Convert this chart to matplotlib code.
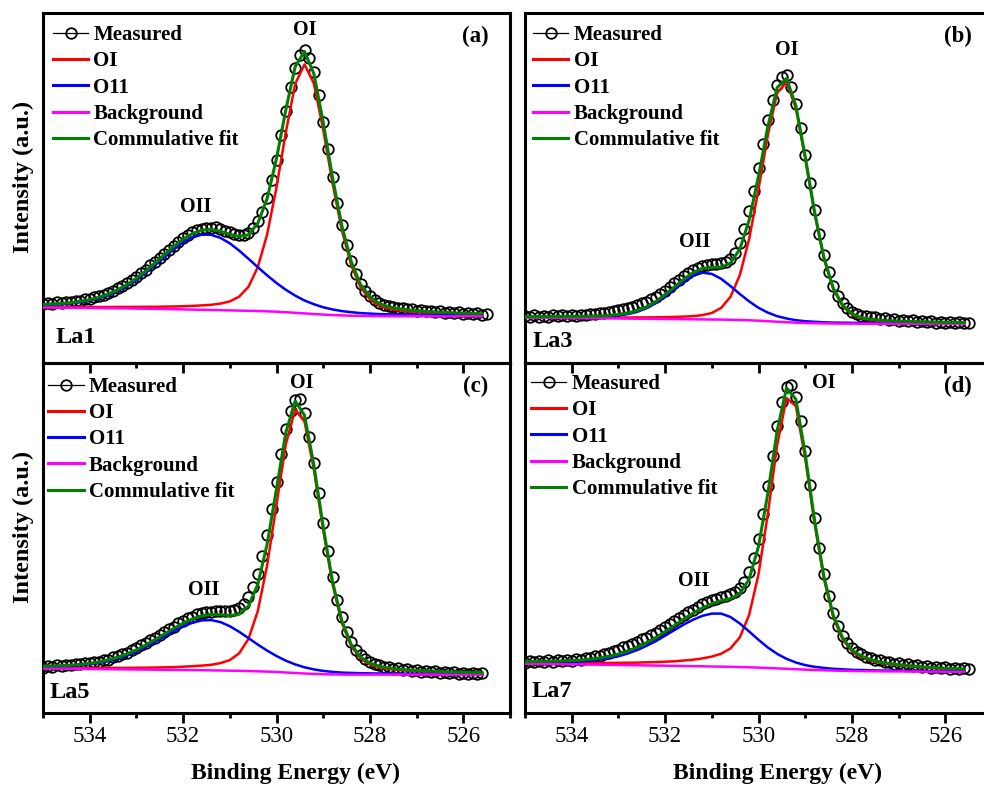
import numpy as np
import matplotlib
matplotlib.use("Agg")
import matplotlib.pyplot as plt
from matplotlib.lines import Line2D
from matplotlib.ticker import MultipleLocator

plt.rcParams['font.family'] = ['Liberation Serif', 'DejaVu Serif']

# binding energy grid of the fitted curves (eV), 0.2 eV step
e_fit = np.round(np.arange(535.0, 525.5, -0.2), 1)

# ---------------- La1 (a) ----------------
meas_la1 = [59.5, 60.5, 59.2, 60.8, 60.0, 61.5, 60.6, 62.5, 62.0, 63.8,
            64.0, 66.5, 67.0, 68.2, 70.5, 72.0, 74.8, 77.5, 80.0, 83.5,
            86.0, 90.5, 93.5, 98.0, 101.5, 105.0, 109.5, 113.5, 117.0, 121.5,
            125.0, 128.5, 131.0, 133.5, 134.5, 135.5, 135.0, 135.8, 134.0, 132.5,
            131.0, 129.5, 128.0, 128.5, 130.5, 135.0, 142.0, 151.0, 165.0, 183.0,
            203.0, 228.0, 252.0, 276.0, 295.0, 308.0, 313.0, 305.0, 291.0, 268.0,
            241.0, 214.0, 186.0, 160.0, 138.0, 118.0, 102.0, 89.0, 79.0, 72.0,
            67.0, 63.0, 60.0, 58.5, 57.0, 56.5, 55.0, 55.2, 53.6, 54.2,
            52.4, 53.2, 51.6, 52.4, 50.6, 51.8, 50.2, 51.0, 49.6, 50.6,
            49.0, 50.2, 48.8, 49.6, 48.5, 49.2]
oi_la1 = [56.2, 56.2, 56.1, 56.1, 56.1, 56.0, 56.0, 56.0, 56.1, 56.1,
          56.1, 56.2, 56.2, 56.4, 56.5, 56.8, 57.1, 57.6, 58.2, 59.4,
          61.6, 66.4, 76.2, 96.0, 128.7, 175.8, 230.8, 279.2, 298.6, 279.5,
          233.4, 179.8, 132.6, 97.8, 75.6, 63.8, 57.5, 54.4, 52.7, 51.7,
          50.9, 50.4, 49.8, 49.5, 49.1, 48.9, 48.6, 48.4]
oii_la1 = [57.9, 58.2, 58.8, 59.5, 60.7, 62.3, 64.7, 67.7, 71.9, 77.0,
           83.1, 90.2, 97.9, 106.0, 113.8, 120.7, 125.7, 128.4, 128.2, 125.1,
           119.7, 112.4, 104.2, 95.8, 87.6, 80.0, 73.2, 67.4, 62.5, 58.8,
           55.7, 53.6, 51.9, 50.8, 49.9, 49.4, 48.9, 48.7, 48.5, 48.3,
           48.2, 48.0, 47.8, 47.8, 47.7, 47.6, 47.6, 47.5]
bg_la1 = [55.5, 55.4, 55.3, 55.2, 55.1, 55.0, 54.9, 54.8, 54.7, 54.6,
          54.4, 54.3, 54.1, 54.0, 53.8, 53.6, 53.4, 53.2, 53.0, 52.8,
          52.6, 52.4, 52.2, 52.0, 51.7, 51.3, 50.8, 50.2, 49.6, 49.0,
          48.4, 48.0, 47.6, 47.3, 47.1, 47.0, 46.9, 46.9, 46.8, 46.8,
          46.8, 46.8, 46.7, 46.7, 46.7, 46.7, 46.7, 46.7]

# ---------------- La3 (b) ----------------
meas_la3 = [47.5, 46.2, 47.6, 46.0, 47.4, 46.3, 47.8, 46.6, 48.0, 47.0,
            48.2, 47.3, 48.5, 47.8, 49.0, 48.6, 49.8, 50.0, 51.2, 52.0,
            53.0, 54.0, 55.2, 56.5, 58.0, 59.8, 61.5, 63.8, 66.0, 69.0,
            72.5, 76.0, 80.0, 83.5, 87.0, 90.5, 93.0, 95.5, 97.0, 98.0,
            98.8, 99.5, 100.0, 101.5, 104.5, 110.0, 120.0, 134.0, 152.0, 172.0,
            195.0, 219.0, 243.0, 263.0, 278.0, 286.0, 288.0, 276.0, 259.0, 235.0,
            208.0, 180.0, 153.0, 129.0, 108.0, 91.0, 77.0, 67.0, 60.0, 55.0,
            51.5, 49.0, 47.5, 47.0, 45.6, 46.0, 44.2, 44.8, 43.0, 43.8,
            42.4, 43.2, 41.6, 42.6, 41.0, 42.2, 40.8, 41.8, 40.4, 41.4,
            40.2, 41.2, 40.0, 40.8, 39.8, 40.5]
oi_la3 = [45.9, 45.9, 45.8, 45.7, 45.7, 45.6, 45.6, 45.5, 45.5, 45.5,
          45.5, 45.5, 45.6, 45.6, 45.7, 45.9, 46.1, 46.4, 46.9, 47.9,
          50.0, 55.1, 66.2, 87.9, 124.0, 173.7, 227.8, 270.0, 280.8, 254.8,
          204.6, 149.8, 104.5, 74.1, 56.9, 48.6, 44.7, 43.1, 42.2, 41.7,
          41.4, 41.1, 40.8, 40.7, 40.5, 40.4, 40.3, 40.2]
oii_la3 = [46.0, 45.9, 45.9, 45.9, 45.9, 45.9, 45.9, 46.1, 46.2, 46.7,
           47.5, 48.9, 51.1, 54.7, 59.8, 66.6, 73.8, 81.2, 87.3, 90.3,
           89.1, 84.2, 76.9, 69.0, 61.6, 55.2, 50.4, 46.8, 44.5, 42.8,
           41.8, 41.2, 40.7, 40.4, 40.3, 40.2, 40.0, 39.9, 39.9, 39.8,
           39.8, 39.7, 39.7, 39.7, 39.6, 39.6, 39.6, 39.6]
bg_la3 = [45.5, 45.4, 45.3, 45.2, 45.1, 45.0, 44.9, 44.8, 44.7, 44.6,
          44.5, 44.4, 44.3, 44.2, 44.1, 44.0, 43.9, 43.8, 43.7, 43.6,
          43.5, 43.4, 43.2, 43.0, 42.7, 42.3, 41.8, 41.3, 40.8, 40.3,
          40.0, 39.8, 39.6, 39.5, 39.4, 39.4, 39.3, 39.3, 39.3, 39.3,
          39.3, 39.3, 39.3, 39.3, 39.3, 39.3, 39.3, 39.3]

# ---------------- La5 (c) ----------------
meas_la5 = [45.0, 46.8, 45.8, 47.6, 46.8, 48.4, 47.6, 49.0, 48.6, 49.8,
            49.6, 51.0, 51.4, 52.8, 53.4, 55.6, 56.6, 59.0, 60.4, 63.2,
            64.6, 67.8, 69.6, 72.8, 75.0, 78.2, 80.6, 84.0, 86.4, 89.6,
            91.8, 94.6, 96.4, 98.6, 99.8, 101.0, 101.4, 101.8, 101.6, 102.0,
            102.2, 103.0, 105.0, 109.0, 116.0, 126.0, 139.0, 157.0, 178.0, 204.0,
            231.0, 259.0, 284.0, 302.0, 313.0, 314.0, 300.0, 276.0, 250.0, 220.0,
            190.0, 162.0, 136.0, 113.0, 96.0, 81.0, 71.0, 63.0, 58.0, 54.0,
            51.5, 49.0, 48.0, 46.2, 45.6, 44.0, 44.6, 42.8, 43.8, 42.0,
            43.0, 41.2, 42.4, 40.6, 41.8, 40.2, 41.2, 39.8, 40.8, 39.4,
            40.4, 39.2, 40.2, 39.0, 40.0]
oi_la5 = [45.2, 45.2, 45.1, 45.1, 45.1, 45.1, 45.1, 45.1, 45.1, 45.1,
          45.2, 45.3, 45.5, 45.7, 45.9, 46.3, 46.8, 47.4, 48.2, 49.9,
          52.9, 59.7, 74.1, 102.1, 147.9, 208.2, 268.7, 303.4, 291.4, 243.5,
          182.9, 128.9, 90.0, 66.9, 54.6, 48.7, 45.7, 44.0, 43.0, 42.3,
          41.8, 41.4, 41.0, 40.7, 40.4, 40.2, 40.0, 39.9]
oii_la5 = [46.1, 46.2, 46.6, 46.9, 47.6, 48.6, 49.9, 51.9, 54.4, 57.6,
           61.5, 66.1, 71.2, 76.5, 81.8, 86.5, 90.3, 92.6, 92.9, 90.9,
           86.8, 81.2, 74.9, 68.4, 62.4, 57.0, 52.3, 48.6, 45.7, 43.6,
           42.1, 41.1, 40.4, 40.1, 39.8, 39.6, 39.5, 39.4, 39.3, 39.2,
           39.1, 39.1, 39.0, 39.0, 38.9, 38.9, 38.8, 38.8]
bg_la5 = [44.5, 44.4, 44.3, 44.2, 44.1, 44.0, 43.9, 43.8, 43.7, 43.6,
          43.5, 43.4, 43.3, 43.2, 43.1, 43.0, 42.9, 42.8, 42.6, 42.5,
          42.3, 42.2, 42.0, 41.7, 41.4, 41.0, 40.5, 40.0, 39.5, 39.1,
          38.8, 38.6, 38.4, 38.4, 38.4, 38.4, 38.4, 38.4, 38.4, 38.4,
          38.4, 38.4, 38.4, 38.4, 38.4, 38.4, 38.4, 38.4]

# ---------------- La7 (d) ----------------
meas_la7 = [50.5, 52.0, 50.6, 52.4, 50.8, 52.6, 51.2, 53.0, 51.6, 53.4,
            52.2, 54.0, 53.4, 55.2, 55.0, 57.0, 57.2, 59.4, 59.8, 62.4,
            63.0, 65.6, 66.6, 69.4, 70.6, 73.6, 75.0, 78.2, 80.0, 83.4,
            85.6, 89.0, 91.6, 95.0, 97.6, 100.8, 103.2, 106.4, 108.6, 111.0,
            112.8, 114.4, 115.6, 117.0, 118.6, 121.0, 125.0, 131.0, 141.0, 155.0,
            174.0, 199.0, 227.0, 257.0, 287.0, 311.0, 326.0, 328.0, 316.0, 292.0,
            262.0, 228.0, 195.0, 165.0, 139.0, 117.0, 100.0, 87.0, 77.0, 70.0,
            65.0, 61.0, 58.8, 56.2, 55.2, 52.8, 52.8, 50.6, 51.2, 48.8,
            49.8, 47.6, 48.8, 46.6, 47.8, 45.8, 47.0, 45.0, 46.4, 44.6,
            45.8, 44.2, 45.4, 43.8, 45.0, 43.6]
oi_la7 = [50.2, 50.2, 50.1, 50.1, 50.1, 50.0, 50.0, 50.0, 50.1, 50.1,
          50.2, 50.3, 50.4, 50.7, 50.9, 51.3, 51.7, 52.5, 53.3, 54.6,
          56.4, 59.3, 64.6, 75.7, 98.2, 138.8, 199.1, 267.9, 314.9, 307.0,
          254.6, 189.6, 134.2, 96.0, 73.7, 61.8, 55.9, 52.5, 50.2, 48.7,
          47.6, 46.6, 45.9, 45.3, 44.8, 44.3, 44.0, 43.7]
oii_la7 = [50.4, 50.5, 50.5, 50.6, 50.8, 51.0, 51.4, 52.2, 53.3, 54.7,
           56.7, 59.5, 62.9, 67.1, 71.8, 77.3, 82.9, 88.5, 93.3, 97.2,
           99.4, 99.4, 96.0, 89.5, 81.5, 73.2, 65.5, 59.1, 54.2, 50.5,
           47.9, 46.2, 45.1, 44.2, 43.7, 43.2, 43.0, 42.7, 42.5, 42.4,
           42.3, 42.1, 42.1, 41.9, 41.9, 41.7, 41.7, 41.7]
bg_la7 = [49.3, 49.2, 49.0, 48.9, 48.8, 48.6, 48.5, 48.4, 48.3, 48.1,
          48.0, 47.9, 47.7, 47.6, 47.4, 47.3, 47.1, 47.0, 46.8, 46.7,
          46.5, 46.4, 46.2, 46.0, 45.7, 45.4, 45.0, 44.6, 44.2, 43.8,
          43.4, 43.0, 42.7, 42.4, 42.2, 42.0, 41.9, 41.8, 41.7, 41.6,
          41.6, 41.5, 41.5, 41.4, 41.4, 41.3, 41.3, 41.3]

samples = ['La1', 'La3', 'La5', 'La7']
letters = ['(a)', '(b)', '(c)', '(d)']
meas_all = [meas_la1, meas_la3, meas_la5, meas_la7]
oi_all = [oi_la1, oi_la3, oi_la5, oi_la7]
oii_all = [oii_la1, oii_la3, oii_la5, oii_la7]
bg_all = [bg_la1, bg_la3, bg_la5, bg_la7]
# peak label positions (energy, intensity)
oi_pos = [(529.4, 333), (529.4, 313), (529.47, 330), (528.61, 330)]
oii_pos = [(531.73, 156), (531.37, 121), (531.56, 123), (531.39, 132)]

legend_labels = ['Measured', 'OI', 'O11', 'Background', 'Commulative fit']

W, H = 984, 785
# panel left / top in pixels
corners = [(43, 13), (525, 13), (43, 363), (525, 363)]
leg_anchor = [(0.021, 0.965), (0.017, 0.965), (0.011, 0.960), (0.013, 0.968)]
sample_pos = [(0.026, 0.074), (0.017, 0.061), (0.015, 0.060), (0.015, 0.061)]

fig = plt.figure(figsize=(W / 100, H / 100), dpi=100)

for i in range(4):
    x0, y0 = corners[i]
    ax = fig.add_axes([x0 / W, 1 - (y0 + 350) / H, 467 / W, 350 / H])
    ax.patch.set_alpha(0)

    meas = np.array(meas_all[i])
    e_meas = 535.0 - 0.1 * np.arange(len(meas))
    oi = np.array(oi_all[i])
    oii = np.array(oii_all[i])
    bg = np.array(bg_all[i])
    fit = oi + oii - bg

    ax.plot(e_meas, meas, 'o', ms=7.6, mfc='none', mec='black', mew=1.3, zorder=2)
    ax.plot(e_fit, oi, color='#ff0000', lw=1.8, zorder=3)
    ax.plot(e_fit, oii, color='#0000ff', lw=1.8, zorder=3)
    ax.plot(e_fit, bg, color='#ff00ff', lw=1.8, zorder=3)
    ax.plot(e_fit, fit, color='#008000', lw=2.2, zorder=4)

    handles = [Line2D([], [], color='black', lw=0.9, marker='o', ms=7.6,
                      mfc='none', mec='black', mew=1.3),
               Line2D([], [], color='#ff0000', lw=2.2),
               Line2D([], [], color='#0000ff', lw=2.2),
               Line2D([], [], color='#ff00ff', lw=2.2),
               Line2D([], [], color='#008000', lw=2.2)]
    ax.legend(handles, legend_labels, loc='upper left', bbox_to_anchor=leg_anchor[i],
              frameon=False, borderpad=0, borderaxespad=0, handlelength=1.7,
              handletextpad=0.25, labelspacing=0.3,
              prop={'weight': 'bold', 'size': 15})

    ax.text(*oi_pos[i], 'OI', ha='center', va='center', fontsize=14.5, fontweight='bold')
    ax.text(*oii_pos[i], 'OII', ha='center', va='center', fontsize=14.5, fontweight='bold')
    ax.text(0.926, 0.932, letters[i], transform=ax.transAxes, ha='center', va='center',
            fontsize=16.5, fontweight='bold')
    ax.text(*sample_pos[i], samples[i], transform=ax.transAxes, ha='left', va='center',
            fontsize=17.5, fontweight='bold')

    ax.set_xlim(535, 525)
    ax.set_ylim(0, 350)
    ax.set_yticks([])
    ax.xaxis.set_major_locator(MultipleLocator(2))
    ax.xaxis.set_minor_locator(MultipleLocator(1))
    ax.tick_params(axis='x', which='both', direction='out', top=False, width=2,
                   labelsize=16.5, pad=2)
    ax.tick_params(axis='x', which='major', length=7)
    ax.tick_params(axis='x', which='minor', length=3.5)
    for s in ax.spines.values():
        s.set_linewidth(2.2)

    if i < 2:
        ax.tick_params(axis='x', labelbottom=False)
    else:
        ax.set_xlabel('Binding Energy (eV)', fontsize=17, fontweight='bold')
        ax.xaxis.set_label_coords(0.54, -0.143)
    if i % 2 == 0:
        ax.set_ylabel('Intensity (a.u.)', fontsize=17.5, fontweight='bold')
        ax.yaxis.set_label_coords(-0.02, 0.531)

fig.savefig('out.png', dpi=100, facecolor='white')
